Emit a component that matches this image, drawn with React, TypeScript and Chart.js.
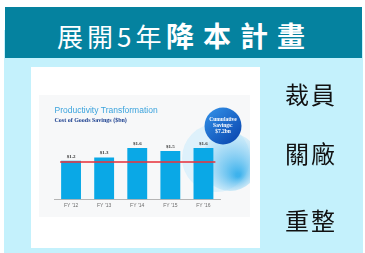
import React, { useEffect, useRef } from "react";
import { Chart, registerables } from "chart.js";

Chart.register(...registerables);

const categories = ["FY '12", "FY '13", "FY '14", "FY '15", "FY '16"];
const savings = [1.2, 1.3, 1.6, 1.5, 1.6];
const targetLine = 1.16;
const yMax = 2.35;
const cumulativeLines = ["Cumulative", "Savings:", "$7.2bn"];
const titleText = "Productivity Transformation";
const subtitleText = "Cost of Goods Savings ($bn)";
const headerLight = "展開5年";
const headerBold = "降本計畫";
const sideItems = ["裁員", "關廠", "重整"];

const CJK = "'Noto Sans CJK TC', 'Noto Sans CJK SC', sans-serif";

export default function App() {
  const ref = useRef<HTMLCanvasElement>(null);

  useEffect(() => {
    const canvas = ref.current;
    if (!canvas) return;

    const decor = {
      id: "decor",
      beforeDraw(chart: any) {
        const ctx = chart.ctx;
        ctx.save();
        ctx.fillStyle = "#F7F8F9";
        ctx.fillRect(8, 28, 211, 122);
        ctx.restore();
      },
      beforeDatasetsDraw(chart: any) {
        const ctx = chart.ctx;
        ctx.save();
        ctx.beginPath();
        ctx.rect(0, 0, 219, 181);
        ctx.clip();
        ctx.fillStyle = "rgba(218,240,251,0.9)";
        ctx.beginPath();
        ctx.arc(185, 91, 34, 0, Math.PI * 2);
        ctx.fill();
        const g = ctx.createRadialGradient(207, 108, 2, 200, 96, 30);
        g.addColorStop(0, "rgba(45,172,235,0.9)");
        g.addColorStop(0.6, "rgba(120,200,242,0.6)");
        g.addColorStop(1, "rgba(190,230,248,0.5)");
        ctx.fillStyle = g;
        ctx.beginPath();
        ctx.arc(199, 95, 29, 0, Math.PI * 2);
        ctx.fill();
        const lg = ctx.createLinearGradient(178, 44, 206, 76);
        lg.addColorStop(0, "#2F8BE3");
        lg.addColorStop(1, "#0A47B0");
        ctx.fillStyle = lg;
        ctx.beginPath();
        ctx.arc(192, 59, 18.5, 0, Math.PI * 2);
        ctx.fill();
        ctx.fillStyle = "#FFFFFF";
        ctx.font = "bold 5.5px 'Liberation Serif'";
        ctx.textAlign = "center";
        ctx.textBaseline = "middle";
        const ys = [52.5, 58.8, 64.5];
        cumulativeLines.forEach((t, i) => ctx.fillText(t, 192, ys[i]));
        ctx.restore();
      },
      afterDatasetsDraw(chart: any) {
        const ctx = chart.ctx;
        const meta = chart.getDatasetMeta(0);
        const bars = meta.data;
        const y = chart.scales.y.getPixelForValue(targetLine);
        const first = bars[0];
        const last = bars[bars.length - 1];
        ctx.save();
        ctx.strokeStyle = "rgba(232,52,62,0.78)";
        ctx.lineWidth = 2;
        ctx.beginPath();
        ctx.moveTo(first.x - first.width / 2 - 1, y);
        ctx.lineTo(last.x + last.width / 2 + 2, y);
        ctx.stroke();
        ctx.fillStyle = "#3A3A3A";
        ctx.font = "bold 5px 'Liberation Serif'";
        ctx.textAlign = "center";
        ctx.textBaseline = "middle";
        bars.forEach((b: any, i: number) => {
          ctx.fillText("$" + savings[i].toFixed(1), b.x, b.y - 4.5);
        });
        ctx.restore();
      },
    };

    const chart = new Chart(canvas, {
      type: "bar",
      data: {
        labels: categories,
        datasets: [
          {
            data: savings,
            backgroundColor: "#0AA8E6",
            borderWidth: 0,
            barPercentage: 0.6,
            categoryPercentage: 1,
          },
        ],
      },
      options: {
        animation: false,
        responsive: false,
        devicePixelRatio: 1,
        layout: { padding: { left: 23.5, right: 40, top: 38.9, bottom: 34.7 } },
        plugins: {
          legend: { display: false },
          tooltip: { enabled: false },
          title: {
            display: true,
            text: titleText,
            align: "start",
            color: "#3BA3DD",
            font: { family: "'Liberation Sans', Arial, sans-serif", size: 8.5, weight: "normal", lineHeight: 1.2 },
            padding: { top: 0, bottom: 0 },
          },
          subtitle: {
            display: true,
            text: subtitleText,
            align: "start",
            color: "#1B3F8F",
            font: { family: "'Liberation Serif', serif", size: 6, weight: "bold", lineHeight: 1.2 },
            padding: { top: 0.5, bottom: 0 },
          },
        },
        scales: {
          x: {
            grid: { display: false, drawTicks: false },
            border: { display: true, color: "#B5B5B5", width: 1 },
            ticks: {
              color: "#6E6E6E",
              padding: 3,
              font: { family: "'Liberation Sans', Arial, sans-serif", size: 5 },
              maxRotation: 0,
            },
            afterFit: (axis: any) => {
              axis.height = 14;
            },
          },
          y: {
            display: false,
            min: 0,
            max: yMax,
          },
        },
      },
      plugins: [decor],
    });

    return () => chart.destroy();
  }, []);

  return (
    <div
      style={{
        position: "fixed",
        left: 0,
        top: 0,
        width: 365,
        height: 253,
        background: "#FFFFFF",
        overflow: "hidden",
      }}
    >
      <div style={{ position: "absolute", left: 4, top: 30, width: 359, height: 223, background: "#C4F1FC" }} />
      <div style={{ position: "absolute", left: 5, top: 7, width: 357, height: 51, background: "#05829F" }} />
      <span
        style={{
          position: "absolute",
          left: 57,
          top: 22.5,
          fontFamily: CJK,
          fontSize: 26,
          lineHeight: "26px",
          letterSpacing: 4,
          color: "#FFFFFF",
          fontWeight: 400,
          whiteSpace: "nowrap",
        }}
      >
        {headerLight}
      </span>
      <span
        style={{
          position: "absolute",
          left: 166,
          top: 20.8,
          fontFamily: CJK,
          fontSize: 28,
          lineHeight: "28px",
          letterSpacing: 9,
          color: "#FFFFFF",
          fontWeight: 700,
          whiteSpace: "nowrap",
        }}
      >
        {headerBold}
      </span>
      <div style={{ position: "absolute", left: 31, top: 67, width: 229, height: 181, background: "#FFFFFF" }}>
        <canvas ref={ref} width={229} height={181} style={{ display: "block", width: 229, height: 181 }} />
      </div>
      {sideItems.map((t, i) => (
        <div
          key={t}
          style={{
            position: "absolute",
            left: 259,
            width: 100,
            top: [81.7, 141, 208.3][i],
            textAlign: "center",
            fontFamily: CJK,
            fontSize: 24,
            lineHeight: "24px",
            letterSpacing: 2,
            paddingLeft: 2,
            color: "#111111",
            fontWeight: 400,
            whiteSpace: "nowrap",
          }}
        >
          {t}
        </div>
      ))}
    </div>
  );
}
